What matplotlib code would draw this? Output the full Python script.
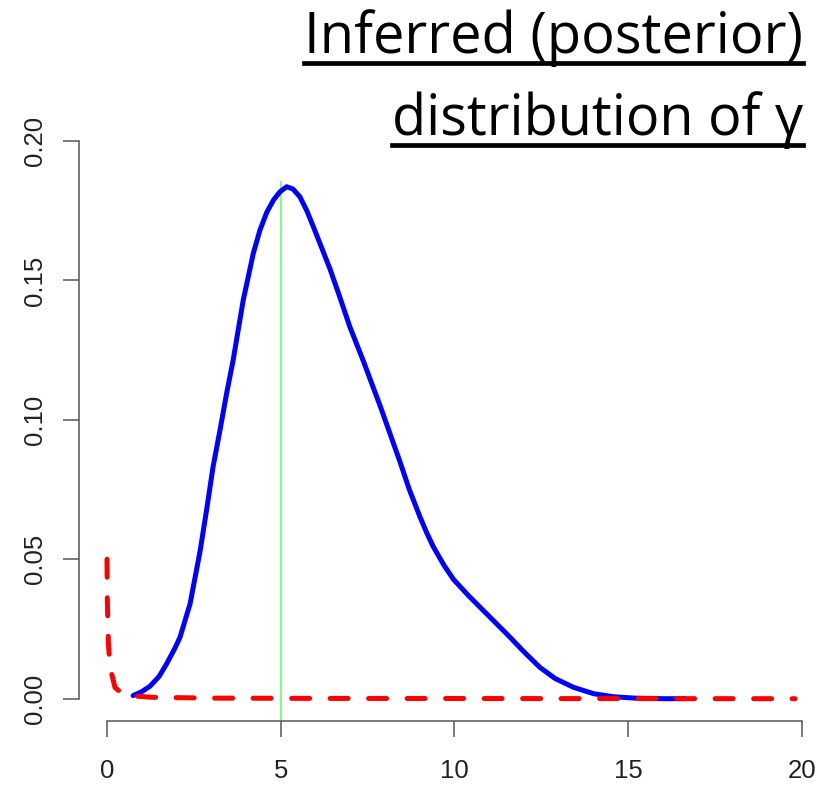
import matplotlib
matplotlib.use("Agg")
import matplotlib.pyplot as plt
from matplotlib.lines import Line2D

# posterior density of gamma (blue)
post_x = [0.75, 1.00, 1.24, 1.50, 1.72, 1.95, 2.10, 2.39, 2.68, 2.87, 3.05,
          3.25, 3.45, 3.63, 3.92, 4.21, 4.40, 4.60, 4.80, 4.98, 5.17, 5.35,
          5.55, 5.75, 5.94, 6.20, 6.42, 6.70, 6.99, 7.38, 7.86, 8.43, 8.70,
          9.01, 9.20, 9.39, 9.70, 9.97, 10.40, 10.83, 11.20, 11.60, 12.00,
          12.46, 12.90, 13.42, 14.00, 14.57, 15.20, 16.00, 16.63]
post_y = [0.0011, 0.0025, 0.0045, 0.0080, 0.0126, 0.0180, 0.0220, 0.0340,
          0.0530, 0.0680, 0.0830, 0.0962, 0.1100, 0.1214, 0.1429, 0.1597,
          0.1680, 0.1745, 0.1790, 0.1818, 0.1836, 0.1828, 0.1800, 0.1750,
          0.1692, 0.1610, 0.1540, 0.1440, 0.1333, 0.1210, 0.1050, 0.0850,
          0.0750, 0.0651, 0.0595, 0.0545, 0.0478, 0.0428, 0.0370, 0.0316,
          0.0270, 0.0220, 0.0168, 0.0112, 0.0072, 0.0041, 0.0018, 0.0007,
          0.0002, 0.0, 0.0]

# prior density (red dashed)
prior_x = [0.0, 0.01, 0.04, 0.09, 0.23, 0.45, 0.75, 1.3, 3.0, 6.0, 12.0, 19.8]
prior_y = [0.050, 0.035, 0.020, 0.0112, 0.0040, 0.0018, 0.0010, 0.0005,
           0.0002, 0.0001, 0.00005, 0.0]

true_gamma = 5

x_ticks = [0, 5, 10, 15, 20]
y_ticks = [0.00, 0.05, 0.10, 0.15, 0.20]
y_labels = ["0.00", "0.05", "0.10", "0.15", "0.20"]
title_lines = ["Inferred (posterior)", "distribution of \u03b3"]

plt.rcParams["font.family"] = ["Liberation Sans", "DejaVu Sans"]
plt.rcParams["xtick.labelsize"] = 18.5
plt.rcParams["ytick.labelsize"] = 18.5

W, H = 831, 786
fig = plt.figure(figsize=(W / 100, H / 100), dpi=100)
ax = fig.add_axes([79.2 / W, 1 - 721 / H, (829.8 - 79.2) / W, (721 - 118.7) / H])
ax.set_xlim(-0.8, 20.8)
ax.set_ylim(-0.008, 0.208)

ax.vlines(true_gamma, -0.008, 0.1855, color="#66ff66", lw=1.2, zorder=1)
ax.plot(post_x, post_y, color="#0000ff", lw=3.6, solid_capstyle="round",
        solid_joinstyle="round", zorder=2)
ax.plot(prior_x, prior_y, color="#ff0000", lw=3.6, dashes=(3.6, 4.1),
        dash_capstyle="round", zorder=3)

axis_col = "#555555"
for side in ("top", "right"):
    ax.spines[side].set_visible(False)
ax.spines["left"].set_bounds(0, 0.2)
ax.spines["bottom"].set_bounds(0, 20)
for side in ("left", "bottom"):
    ax.spines[side].set_color(axis_col)
    ax.spines[side].set_linewidth(1.1)

ax.set_xticks(x_ticks)
ax.set_xticklabels([str(t) for t in x_ticks])
ax.set_yticks(y_ticks)
ax.set_yticklabels(y_labels, rotation=90, va="center")
ax.tick_params(length=11.5, width=1.1, color=axis_col, labelcolor="#222222")
ax.tick_params(axis="x", pad=16)
ax.tick_params(axis="y", pad=12)

# title, right-aligned and underlined
baselines = [53, 135]
under_y = [62.5, 144.5]
target_w = [498, 411]
fig.canvas.draw()
renderer = fig.canvas.get_renderer()
for line, base, uy, tw in zip(title_lines, baselines, under_y, target_w):
    t = fig.text(803 / W, 1 - base / H, line, ha="right", va="baseline",
                 fontsize=40, family=["Open Sans", "DejaVu Sans"], color="black")
    w = t.get_window_extent(renderer).width
    t.set_fontsize(40 * tw / w)
    bb = t.get_window_extent(renderer)
    fig.add_artist(Line2D([bb.x0 / W, bb.x1 / W], [1 - uy / H, 1 - uy / H],
                          transform=fig.transFigure, color="black", lw=3.4))

fig.savefig("out.png", dpi=100)
